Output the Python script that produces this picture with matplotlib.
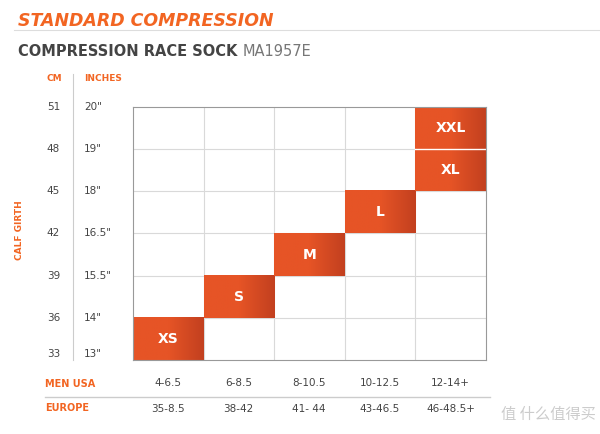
import numpy as np
import matplotlib.pyplot as plt
from matplotlib.colors import LinearSegmentedColormap

cm_ticks = [33, 36, 39, 42, 45, 48, 51]
inch_ticks = ['13"', '14"', '15.5"', '16.5"', '18"', '19"', '20"']
men_usa = ['4-6.5', '6-8.5', '8-10.5', '10-12.5', '12-14+']
europe = ['35-8.5', '38-42', '41- 44', '43-46.5', '46-48.5+']
sizes = ['XS', 'S', 'M', 'L', 'XL', 'XXL']
size_col = [0, 1, 2, 3, 4, 4]
size_low = [33, 36, 39, 42, 45, 48]

ORANGE = '#f26522'
W, H = 600, 434
fig = plt.figure(figsize=(6, 4.34), dpi=100)
plt.rcParams['font.family'] = ['DejaVu Sans', 'Noto Sans CJK SC']

def fx(x): return x / W
def fy(y): return 1 - y / H

ax = fig.add_axes([fx(133), fy(360), fx(486) - fx(133), fy(107) - fy(360)])
ax.set_xlim(0, 5)
ax.set_ylim(33, 51)
for x in range(1, 5):
    ax.axvline(x, color='#d9d9d9', lw=0.8)
for y in cm_ticks[1:-1]:
    ax.axhline(y, color='#d9d9d9', lw=0.8)
for s in ax.spines.values():
    s.set_color('#999999')
    s.set_linewidth(0.8)
    s.set_zorder(5)
ax.set_xticks([])
ax.set_yticks([])

cmap = LinearSegmentedColormap.from_list('g', ['#e65426', '#e65426', '#c2401f'])
grad = np.linspace(0, 1, 100).reshape(1, -1)
for name, c, lo in zip(sizes, size_col, size_low):
    ax.imshow(grad, cmap=cmap, extent=[c, c + 1, lo, lo + 3], aspect='auto', zorder=2)
    ax.text(c + 0.5, lo + 1.5, name, color='white', fontsize=10, fontweight='bold',
            ha='center', va='center', zorder=4)
# thin white gap between XL and XXL
ax.plot([4, 5], [48, 48], color='white', lw=1, zorder=3)
ax.set_xlim(0, 5)
ax.set_ylim(33, 51)

# headings
fig.text(fx(18), fy(21), 'STANDARD COMPRESSION', color=ORANGE, fontsize=12.5,
         fontweight='bold', fontstyle='italic', va='center')
fig.add_artist(plt.Line2D([fx(14), 1], [fy(30), fy(30)], color='#dddddd', lw=0.8))
t = fig.text(fx(18), fy(52), 'COMPRESSION RACE SOCK ', color='#444444', fontsize=10.5,
             fontweight='bold', va='center')
fig.canvas.draw()
bb = t.get_window_extent()
fig.text(bb.x1 / W, fy(52), 'MA1957E', color='#777777', fontsize=10.5, va='center')

fig.text(fx(62), fy(79), 'CM', color=ORANGE, fontsize=6.5, fontweight='bold', ha='right', va='center')
fig.text(fx(84), fy(79), 'INCHES', color=ORANGE, fontsize=6.5, fontweight='bold', va='center')
fig.add_artist(plt.Line2D([fx(73), fx(73)], [fy(74), fy(360)], color='#cccccc', lw=0.8))
fig.text(fx(20), fy(230), 'CALF GIRTH', color=ORANGE, fontsize=6.5, fontweight='bold',
         rotation=90, ha='center', va='center')

for cm, inch in zip(cm_ticks, inch_ticks):
    ypix = 360 - (cm - 33) / 18 * 253
    if cm == 33:
        ypix = 354
    fig.text(fx(60), fy(ypix), str(cm), color='#444444', fontsize=7.5, ha='right', va='center')
    fig.text(fx(84), fy(ypix), inch, color='#444444', fontsize=7.5, va='center')

fig.text(fx(45), fy(384), 'MEN USA', color=ORANGE, fontsize=7, fontweight='bold', va='center')
fig.text(fx(45), fy(408), 'EUROPE', color=ORANGE, fontsize=7, fontweight='bold', va='center')
fig.add_artist(plt.Line2D([fx(45), fx(490)], [fy(397), fy(397)], color='#cccccc', lw=1))
for i, (u, e) in enumerate(zip(men_usa, europe)):
    xc = 168 + i * 70.6
    fig.text(fx(xc), fy(383), u, color='#444444', fontsize=7.5, ha='center', va='center')
    fig.text(fx(xc), fy(409), e, color='#444444', fontsize=7.5, ha='center', va='center')

fig.text(fx(596), fy(414), '值 什么值得买', color='#cccccc', fontsize=11, ha='right', va='center',
         family=['Noto Sans CJK SC', 'DejaVu Sans'])

fig.savefig('out.png', dpi=100)
